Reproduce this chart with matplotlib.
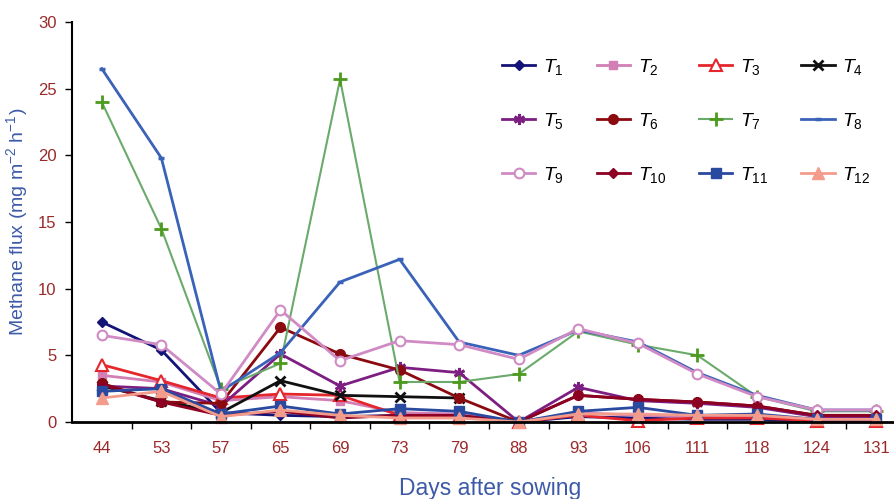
import numpy as np
import matplotlib
matplotlib.use("Agg")
import matplotlib.pyplot as plt

# ── Data ─────────────────────────────────────────────────────────────────────
days = ["44", "53", "57", "65", "69", "73", "79", "88", "93", "106", "111", "118", "124", "131"]
nan = np.nan

T1 = [7.5, 5.4, 0.7, 0.5, 0.4, 0.5, 0.4, 0.0, 0.4, 0.3, 0.2, 0.2, 0.1, 0.1]
T2 = [3.5, 3.0, 1.6, 1.9, 1.6, 0.7, 0.6, 0.0, 0.7, 0.5, 0.4, 0.4, 0.2, 0.2]
T3 = [4.3, 3.1, 1.8, 2.1, 2.0, 0.5, 0.4, 0.0, 0.5, 0.1, 0.3, 0.3, 0.1, 0.1]
T4 = [2.7, 1.6, 0.7, 3.1, 2.0, 1.9, 1.8, nan, nan, nan, nan, nan, nan, nan]
T5 = [2.7, 2.5, 1.2, 5.1, 2.7, 4.1, 3.7, 0.0, 2.6, 1.6, 1.4, 1.1, 0.4, 0.4]
T6 = [2.9, 1.5, 1.4, 7.1, 5.1, 3.9, 1.8, 0.0, 2.0, 1.7, 1.5, 1.2, 0.5, 0.5]
T7 = [24.0, 14.5, 2.5, 4.4, 25.7, 3.0, 3.0, 3.6, 6.8, 5.8, 5.0, 1.9, 0.8, 0.8]
T8 = [26.5, 19.8, 2.3, 5.2, 10.5, 12.2, 6.0, 5.0, 6.9, 6.0, 3.7, 2.0, 0.9, 0.9]
T9 = [6.5, 5.8, 2.1, 8.4, 4.6, 6.1, 5.8, 4.7, 7.0, 5.9, 3.6, 1.9, 0.9, 0.9]
T10 = [2.8, 1.5, 0.5, 0.8, 0.3, 0.5, 0.5, 0.0, 2.0, 1.7, 1.5, 1.2, 0.5, 0.5]
T11 = [2.3, 2.5, 0.6, 1.2, 0.6, 1.0, 0.8, 0.0, 0.8, 1.1, 0.5, 0.6, 0.2, 0.2]
T12 = [1.8, 2.3, 0.4, 0.9, 0.5, 0.3, 0.3, 0.0, 0.6, 0.6, 0.5, 0.5, 0.2, 0.2]

series = [T1, T2, T3, T4, T5, T6, T7, T8, T9, T10, T11, T12]

# ── Styles ───────────────────────────────────────────────────────────────────
styles = [
    dict(color="#141478", marker="D", ms=5, mfc="#141478"),
    dict(color="#d27fb6", marker="s", ms=6, mfc="#d27fb6"),
    dict(color="#e5262d", marker="^", ms=8, mfc="white", mew=1.5),
    dict(color="#101010", marker="x", ms=7, mew=2),
    dict(color="#7d1f82", marker=(6, 2, 0), ms=8, mew=2),
    dict(color="#8a0a10", marker="o", ms=7, mfc="#8a0a10"),
    dict(color="#6aaa6a", marker="+", ms=10, mec="#4c9a1e", mew=2, lw=1.5),
    dict(color="#3a62b8", marker="_", ms=5, mew=2.5),
    dict(color="#d08ac4", marker="o", ms=7, mfc="white", mew=1.5),
    dict(color="#8c0024", marker="D", ms=5, mfc="#8c0024"),
    dict(color="#2a4aa0", marker="s", ms=7, mfc="#2a4aa0"),
    dict(color="#f39c8c", marker="^", ms=8, mfc="#f39c8c"),
]

plt.rcParams["font.family"] = ["Liberation Sans", "DejaVu Sans"]
plt.rcParams["mathtext.fontset"] = "custom"
plt.rcParams["mathtext.rm"] = "Liberation Sans"
plt.rcParams["mathtext.it"] = "Liberation Sans:italic"

tick_color = "#9a2a2a"
label_color = "#3d5aa8"

fig = plt.figure(figsize=(8.94, 4.99), dpi=100)
ax = fig.add_axes([72 / 894, 1 - 422 / 499, 1 - 72 / 894, (422 - 22) / 499])

x = np.arange(len(days))
handles = []
for i, (vals, st) in enumerate(zip(series, styles)):
    st = dict(st)
    lw = st.pop("lw", 2)
    h, = ax.plot(x, vals, lw=lw, label=f"$T_{{{i + 1}}}$", clip_on=False, **st)
    handles.append(h)

ax.set_xlim(-0.5, 13.3)
ax.set_ylim(0, 30)
ax.set_yticks([0, 5, 10, 15, 20, 25, 30])
ax.set_xticks(x)
ax.set_xticklabels(days)
ax.set_xticks(x[:-1] + 0.5, minor=True)
ax.tick_params(axis="x", which="major", length=0, pad=14, labelsize=12, labelcolor=tick_color)
ax.tick_params(axis="x", which="minor", length=5, width=1, direction="out")
ax.tick_params(axis="y", length=5, width=1, direction="out", labelsize=12, labelcolor=tick_color, pad=6)

for s in ["top", "right"]:
    ax.spines[s].set_visible(False)
ax.spines["bottom"].set_linewidth(2)
ax.spines["left"].set_linewidth(1.5)

ax.set_ylabel("Methane flux (mg m$^{-2}$ h$^{-1}$)", color=label_color, fontsize=14, labelpad=6)
fig.text(490 / 894, 1 - 488 / 499, "Days after sowing", color=label_color,
         fontsize=16.5, ha="center", va="center")

# legend filled row by row (4 columns x 3 rows)
order = [0, 4, 8, 1, 5, 9, 2, 6, 10, 3, 7, 11]
ax.legend([handles[k] for k in order], [handles[k].get_label() for k in order],
          loc="upper left", bbox_to_anchor=(502 / 894, 1 - 57 / 499), bbox_transform=fig.transFigure,
          ncol=4, frameon=False, fontsize=14, handlelength=1.7, handletextpad=0.4,
          labelspacing=1.75, columnspacing=1.7, borderpad=0, borderaxespad=0)

fig.savefig("out.png", dpi=100)
